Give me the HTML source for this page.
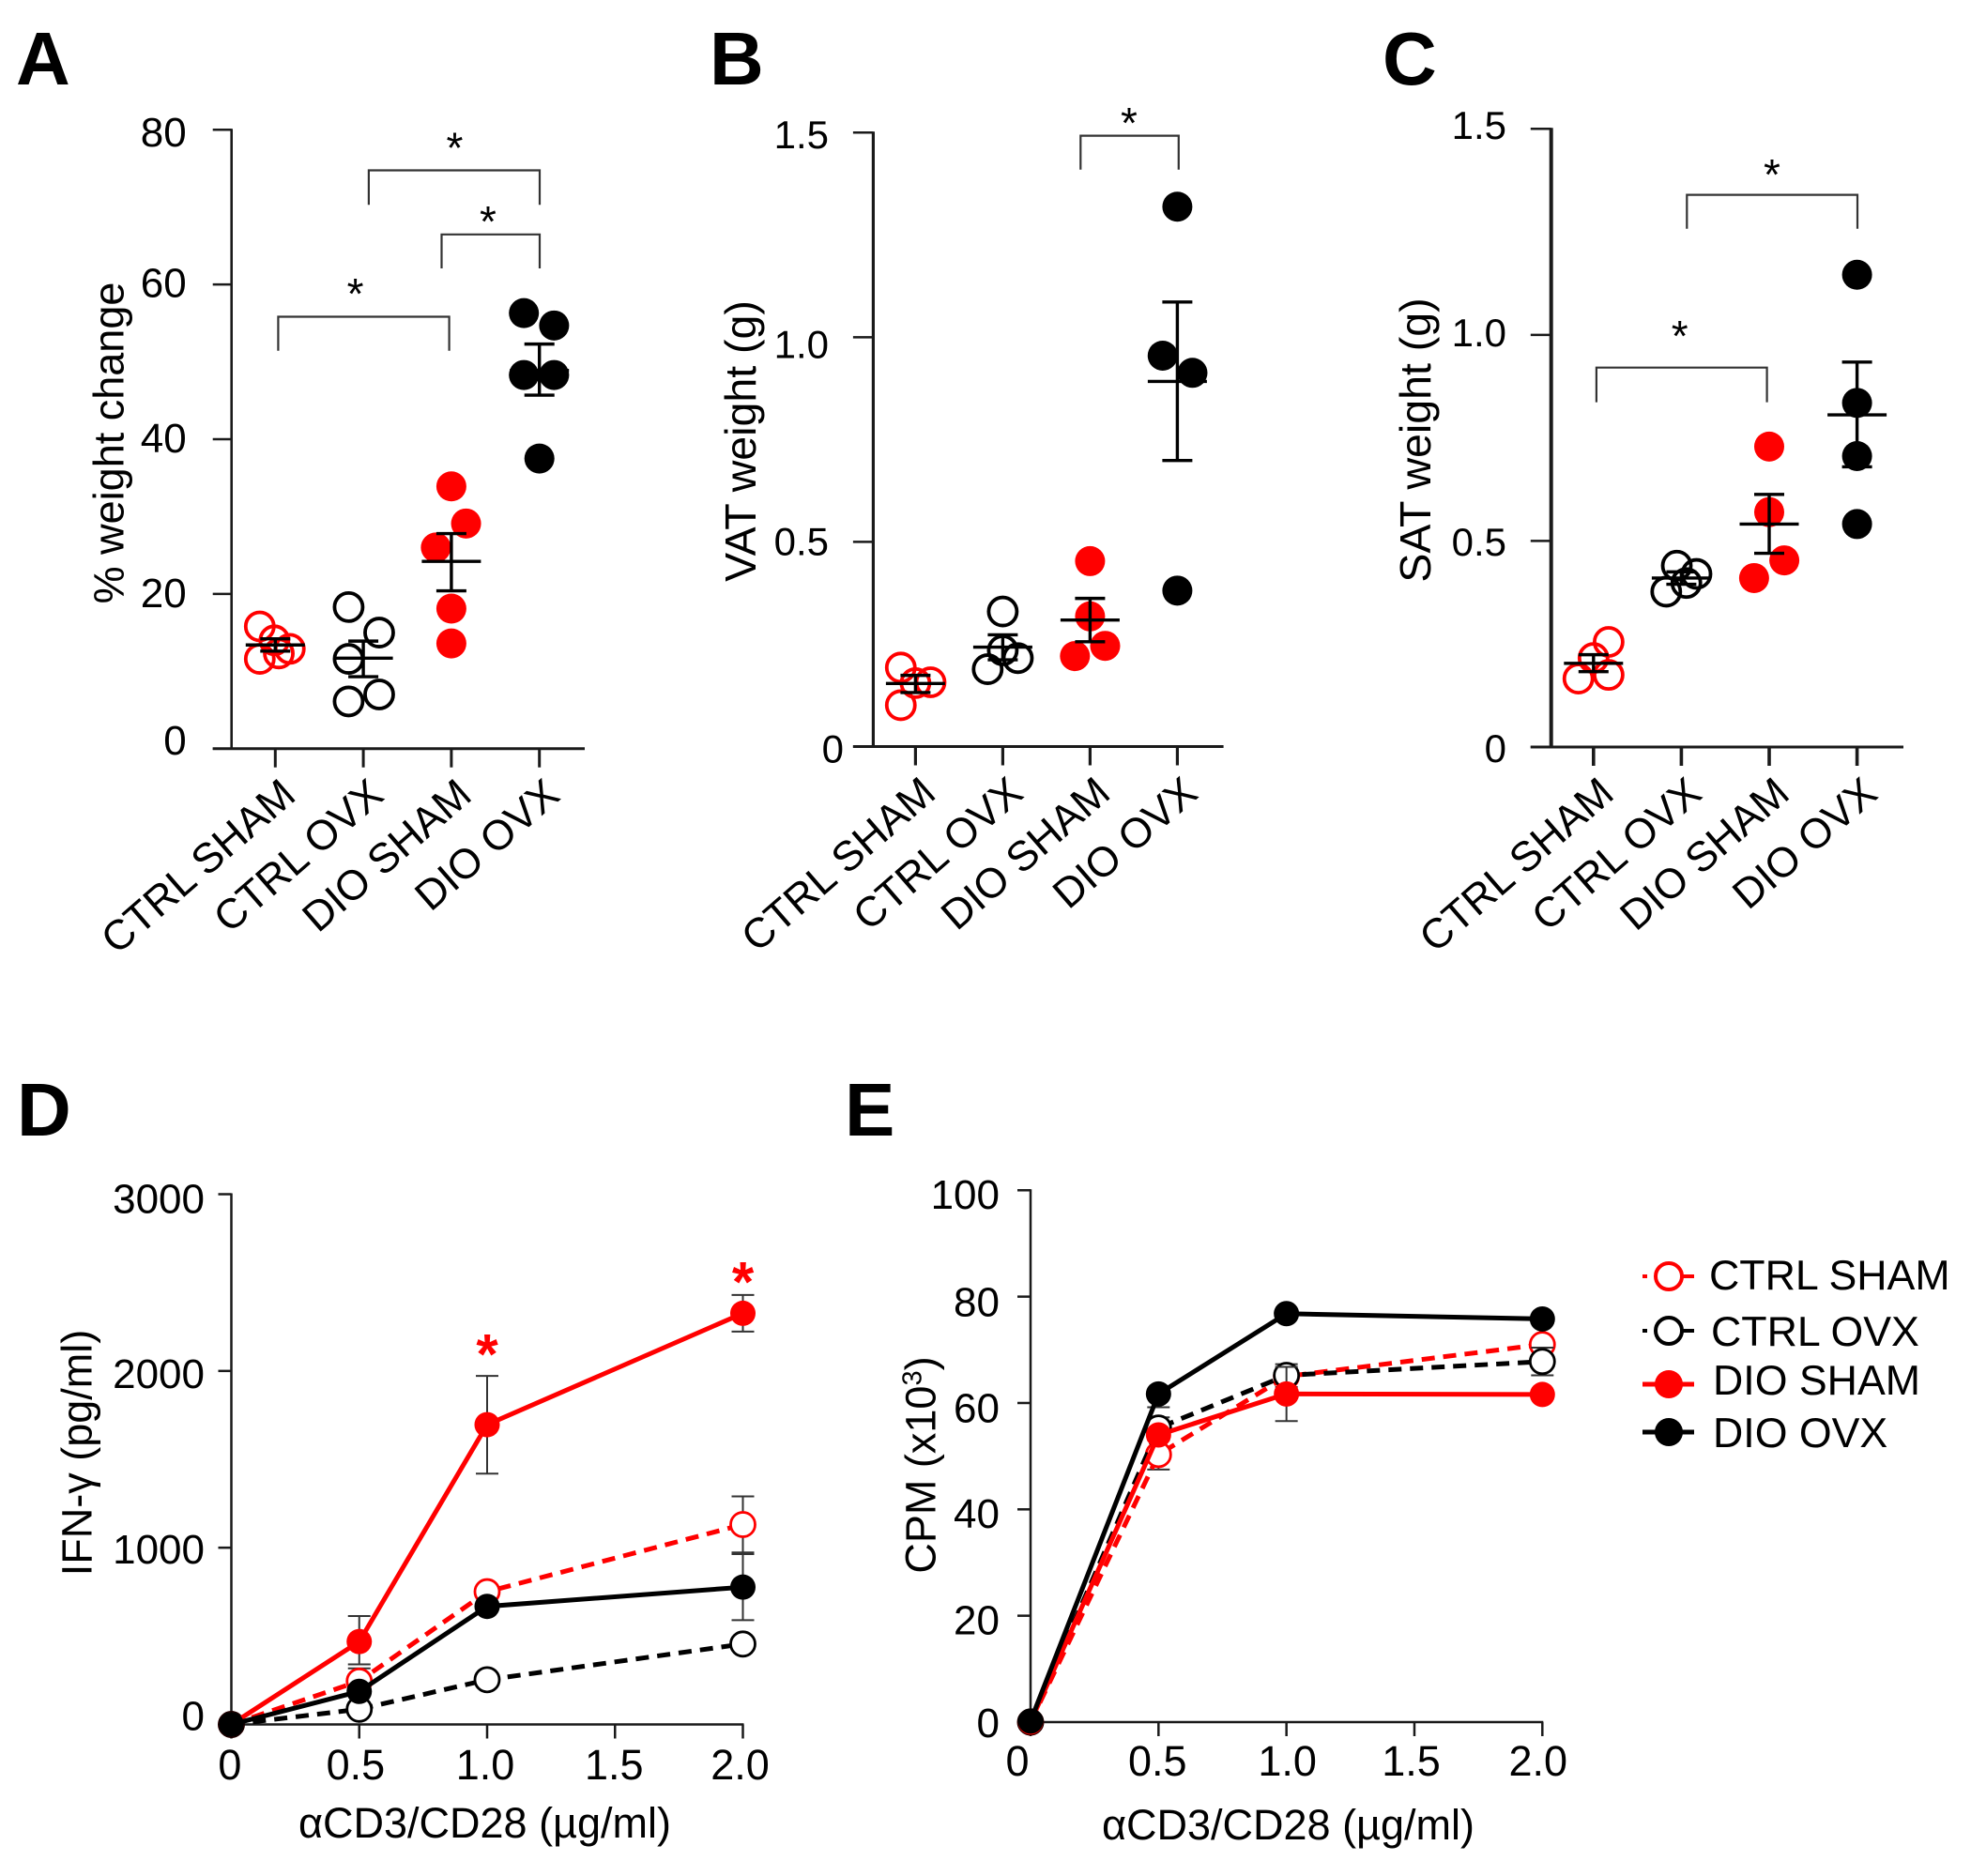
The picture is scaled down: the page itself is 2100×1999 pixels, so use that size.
<!DOCTYPE html>
<html lang="en">
<head>
<meta charset="utf-8">
<title>Weight and T-cell response panels</title>
<style>
html,body{margin:0;padding:0;background:#fff}
svg{display:block}
text{font-family:"Liberation Sans",Arial,sans-serif;fill:#000}
.letter{font-size:80px;font-weight:700}
.ytitle{font-size:45px}
.ytitle-wide{font-size:46.5px}
.xtitle{font-size:45px}
.legend-text{font-size:44.7px}
</style>
</head>
<body>
<svg id="figure" xmlns="http://www.w3.org/2000/svg" width="2100" height="1999" viewBox="0 0 2100 1999">
<rect width="2100" height="1999" fill="#fff"/>
<text class="letter" x="17" y="90">A</text>
<text class="letter" x="756" y="90">B</text>
<text class="letter" x="1473" y="90">C</text>
<text class="letter" x="18" y="1210">D</text>
<text class="letter" x="900" y="1210">E</text>

<text class="ytitle" text-anchor="middle" transform="translate(131.5 472) rotate(-90)">% weight change</text>
<text class="ytitle-wide" text-anchor="middle" transform="translate(805 470) rotate(-90)">VAT weight (g)</text>
<text class="ytitle-wide" text-anchor="middle" transform="translate(1524 469) rotate(-90)">SAT weight (g)</text>
<text class="ytitle" text-anchor="middle" transform="translate(97.5 1548) rotate(-90)">IFN-γ (pg/ml)</text>
<text class="ytitle" text-anchor="middle" transform="translate(996.5 1561) rotate(-90)">CPM (x10<tspan dy="-15" font-size="29">3</tspan><tspan dy="15">)</tspan></text>
<text class="xtitle" text-anchor="middle" x="516.5" y="1958">αCD3/CD28 (µg/ml)</text>
<text class="xtitle" text-anchor="middle" x="1372.5" y="1960">αCD3/CD28 (µg/ml)</text>

<g>
  <g>
    <line x1="1750" y1="1360" x2="1805" y2="1360" stroke="#f00" stroke-width="4" stroke-dasharray="5 13 60"/>
    <circle cx="1778" cy="1360" r="14" fill="#fff" stroke="#f00" stroke-width="4"/>
    <text class="legend-text" x="1821" y="1374">CTRL SHAM</text>
  </g>
  <g>
    <line x1="1750" y1="1418" x2="1805" y2="1418" stroke="#000" stroke-width="4" stroke-dasharray="5 13 60"/>
    <circle cx="1778" cy="1418" r="14" fill="#fff" stroke="#000" stroke-width="4"/>
    <text class="legend-text" x="1823" y="1434">CTRL OVX</text>
  </g>
  <g>
    <line x1="1750" y1="1475" x2="1805" y2="1475" stroke="#f00" stroke-width="5"/>
    <circle cx="1778" cy="1475" r="15" fill="#f00"/>
    <text class="legend-text" x="1825" y="1486">DIO SHAM</text>
  </g>
  <g>
    <line x1="1750" y1="1526" x2="1805" y2="1526" stroke="#000" stroke-width="5"/>
    <circle cx="1778" cy="1526" r="15" fill="#000"/>
    <text class="legend-text" x="1825" y="1542">DIO OVX</text>
  </g>
</g>
</svg>

<script>
/* ---------- shared categories ---------- */
const groupNames = ['CTRL SHAM', 'CTRL OVX', 'DIO SHAM', 'DIO OVX'];

/* ---------- panel A: % weight change ---------- */
const aTickValues = [0, 20, 40, 60, 80];
const aTickLabels = ['0', '20', '40', '60', '80'];
const aCtrlSham = [15.8, 14.0, 12.9, 11.6, 12.3];
const aCtrlOvx = [18.3, 15.0, 11.6, 7.0, 6.1];
const aDioSham = [33.9, 29.1, 26.0, 18.1, 13.6];
const aDioOvx = [56.3, 54.7, 48.3, 48.3, 37.5];
const aCtrlShamSpread = [-0.176, -0.01, 0.165, -0.176, 0.04];
const aCtrlOvxSpread = [-0.167, 0.18, -0.167, 0.18, -0.167];
const aDioShamSpread = [0, 0.167, -0.176, 0, 0];
const aDioOvxSpread = [-0.176, 0.167, -0.176, 0.167, 0];
const aMean = [13.4, 11.7, 24.2, 48.9];
const aUpper = [14.2, 13.9, 27.8, 52.3];
const aLower = [12.6, 9.3, 20.4, 45.7];

/* ---------- panel B: VAT weight ---------- */
const bTickValues = [0, 0.5, 1.0, 1.5];
const bTickLabels = ['0', '0.5', '1.0', '1.5'];
const bCtrlSham = [0.193, 0.155, 0.157, 0.101];
const bCtrlOvx = [0.33, 0.235, 0.216, 0.189];
const bDioSham = [0.453, 0.318, 0.246, 0.221];
const bDioOvx = [1.319, 0.955, 0.913, 0.381];
const bCtrlShamSpread = [-0.168, 0, 0.173, -0.168];
const bCtrlOvxSpread = [0, 0, 0.173, -0.173];
const bDioShamSpread = [0, 0, 0.173, -0.173];
const bDioOvxSpread = [0, -0.168, 0.173, 0];
const bMean = [0.154, 0.243, 0.309, 0.892];
const bUpper = [0.174, 0.273, 0.362, 1.086];
const bLower = [0.132, 0.212, 0.256, 0.699];

/* ---------- panel C: SAT weight ---------- */
const cTickValues = [0, 0.5, 1.0, 1.5];
const cTickLabels = ['0', '0.5', '1.0', '1.5'];
const cCtrlSham = [0.255, 0.216, 0.175, 0.166];
const cCtrlOvx = [0.44, 0.42, 0.398, 0.377];
const cDioSham = [0.729, 0.57, 0.453, 0.41];
const cDioOvx = [1.146, 0.835, 0.706, 0.541];
const cCtrlShamSpread = [0.172, 0, 0.172, -0.172];
const cCtrlOvxSpread = [-0.052, 0.172, 0.057, -0.172];
const cDioShamSpread = [0, 0, 0.172, -0.172];
const cDioOvxSpread = [0, 0, 0, 0];
const cMean = [0.203, 0.41, 0.541, 0.806];
const cUpper = [0.224, 0.425, 0.613, 0.934];
const cLower = [0.183, 0.395, 0.47, 0.68];

/* ---------- panels D, E: dose response ---------- */
const doses = [0, 0.5, 1.0, 2.0];
const doseTickValues = [0, 0.5, 1.0, 1.5, 2.0];
const doseTickLabels = ['0', '0.5', '1.0', '1.5', '2.0'];

const dTickValues = [0, 1000, 2000, 3000];
const dTickLabels = ['0', '1000', '2000', '3000'];
const dCtrlSham = [0, 245, 751, 1131];
const dCtrlOvx = [0, 86, 253, 455];
const dDioSham = [0, 469, 1696, 2326];
const dDioOvx = [0, 187, 668, 777];
const dCtrlShamUpper = [null, 317, null, 1290];
const dCtrlShamLower = [null, 173, null, 973];
const dCtrlOvxUpper = [null, null, null, null];
const dCtrlOvxLower = [null, null, null, null];
const dDioShamUpper = [null, 613, 1972, 2430];
const dDioShamLower = [null, 340, 1419, 2223];
const dDioOvxUpper = [null, null, null, 964];
const dDioOvxLower = [null, null, null, 590];
const dStarDoses = [1.0, 2.0];
const dStarValues = [2150, 2560];

const eTickValues = [0, 20, 40, 60, 80, 100];
const eTickLabels = ['0', '20', '40', '60', '80', '100'];
const eCtrlSham = [0, 50.3, 65, 71];
const eCtrlOvx = [0, 55.3, 65.2, 67.8];
const eDioSham = [0, 54, 61.7, 61.6];
const eDioOvx = [0.2, 61.7, 76.8, 75.8];
const eCtrlShamUpper = [null, 53, null, null];
const eCtrlShamLower = [null, 47.5, null, null];
const eCtrlOvxUpper = [null, 57.3, 67.3, 70.4];
const eCtrlOvxLower = [null, null, 63, 65.2];
const eDioShamUpper = [null, null, 66.8, null];
const eDioShamLower = [null, null, 56.6, null];
const eDioOvxUpper = [null, null, null, null];
const eDioOvxLower = [null, 59.2, null, null];

/* ---------- helpers ---------- */
const NS = 'http://www.w3.org/2000/svg';
const root = document.getElementById('figure');
function svgEl(tag, attrs, parent, txt) {
  const el = document.createElementNS(NS, tag);
  for (const k in attrs) el.setAttribute(k, attrs[k]);
  if (txt !== undefined) el.textContent = txt;
  parent.appendChild(el);
  return el;
}
function scaleLinear(d0, d1, r0, r1) {
  return v => r0 + (v - d0) / (d1 - d0) * (r1 - r0);
}
const slug = s => String(s).toLowerCase().replace(/[^a-z0-9]+/g, '-');

/* ---------- scatter panels ---------- */
function drawScatter(cfg) {
  const g = svgEl('g', {}, root);
  
  
  const yScale = scaleLinear(0, cfg.yMax, cfg.y0, cfg.yTop);
  const xScale = scaleLinear(0, 1, cfg.firstCat, cfg.firstCat + cfg.catStep);

  const yAxis = svgEl('line', {x1: cfg.axisX, x2: cfg.axisX, y1: cfg.yTop - 1, y2: cfg.y0, stroke: '#1a1a1a', 'stroke-width': cfg.axisW}, g);
  
  
  const xAxis = svgEl('line', {x1: cfg.left, x2: cfg.right, y1: cfg.y0, y2: cfg.y0, stroke: '#1a1a1a', 'stroke-width': 3}, g);
  
  

  cfg.ticks.forEach((v, i) => {
    const t = svgEl('line', {x1: cfg.left, x2: cfg.axisX, y1: yScale(v), y2: yScale(v), stroke: '#1a1a1a', 'stroke-width': 2.5}, g);
    
    
    const right = (v === 0 && cfg.zeroRight) ? cfg.zeroRight : cfg.labelRight;
    const lab = svgEl('text', {x: right, y: yScale(v) + 15.5 + cfg.tickNudge[i], 'text-anchor': 'end', 'font-size': cfg.tickFont}, g, cfg.tickLabels[i]);
    
    
  });

  groupNames.forEach((name, i) => {
    const x = xScale(i);
    const t = svgEl('line', {x1: x, x2: x, y1: cfg.y0, y2: cfg.y0 + 20, stroke: '#1a1a1a', 'stroke-width': cfg.xTickW}, g);
    
    
    const ax = x + 24, ay = cfg.y0 + 53;
    const lab = svgEl('text', {x: ax, y: ay, 'text-anchor': 'end', 'font-size': 44.5, transform: 'rotate(-41 ' + ax + ' ' + ay + ')'}, g, name);
    
    
  });

  groupNames.forEach((name, i) => {
    const colour = (i === 0 || i === 2) ? '#f00' : '#000';
    const open = i < 2;
    cfg.values[i].forEach((v, j) => {
      const pt = svgEl('circle', {
        cx: xScale(i + cfg.spread[i][j]), cy: yScale(v), r: open ? 15 : 16,
        fill: open ? 'none' : colour, stroke: open ? colour : 'none', 'stroke-width': open ? 3.8 : 0
      }, g);
      
      
    });
  });

  groupNames.forEach((name, i) => {
    const x = xScale(i);
    const parts = [
      [x - 31.5, x + 31.5, yScale(cfg.mean[i]), yScale(cfg.mean[i])],
      [x - 16, x + 16, yScale(cfg.upper[i]), yScale(cfg.upper[i])],
      [x - 16, x + 16, yScale(cfg.lower[i]), yScale(cfg.lower[i])],
      [x, x, yScale(cfg.upper[i]), yScale(cfg.lower[i])]
    ];
    parts.forEach((p, k) => {
      const ln = svgEl('line', {x1: p[0], x2: p[1], y1: p[2], y2: p[3], stroke: '#000', 'stroke-width': 3.4}, g);
      
      
    });
  });

  cfg.brackets.forEach(b => {
    const br = svgEl('path', {d: 'M' + b[0] + ' ' + b[3] + 'V' + b[2] + 'H' + b[1] + 'V' + b[3], fill: 'none', stroke: '#333', 'stroke-width': 2.2}, g);
    
    
    const st = svgEl('text', {x: b[4], y: b[5] + 21, 'text-anchor': 'middle', 'font-size': 46}, g, '*');
    
    
  });
}

drawScatter({
  id: 'a', yMax: 80, y0: 797.7, yTop: 138.3, axisX: 246.7, axisW: 2.6, xTickW: 3, left: 226.7, right: 623,
  firstCat: 293.3, catStep: 93.8, labelRight: 198.7, tickFont: 44,
  ticks: aTickValues, tickLabels: aTickLabels, tickNudge: [-9, -1.5, -1.3, -2, 2.3],
  values: [aCtrlSham, aCtrlOvx, aDioSham, aDioOvx],
  spread: [aCtrlShamSpread, aCtrlOvxSpread, aDioShamSpread, aDioOvxSpread],
  mean: aMean, upper: aUpper, lower: aLower,
  brackets: [[392.9, 575, 181.5, 218.3, 484.4, 152.7], [470.5, 575, 249.8, 286, 520, 231], [296.4, 478.6, 337.5, 373.7, 378.6, 308]]
});
drawScatter({
  id: 'b', yMax: 1.5, y0: 795.5, yTop: 141.3, axisX: 930.4, axisW: 3.2, xTickW: 3.2, left: 908.9, right: 1303.6,
  firstCat: 975.4, catStep: 93, labelRight: 883, zeroRight: 899, tickFont: 42,
  ticks: bTickValues, tickLabels: bTickLabels, tickNudge: [1.3, -1.3, 6.7, 1.3],
  values: [bCtrlSham, bCtrlOvx, bDioSham, bDioOvx],
  spread: [bCtrlShamSpread, bCtrlOvxSpread, bDioShamSpread, bDioOvxSpread],
  mean: bMean, upper: bUpper, lower: bLower,
  brackets: [[1151.3, 1255.8, 144.6, 180.8, 1203, 125.9]]
});
drawScatter({
  id: 'c', yMax: 1.5, y0: 796, yTop: 137.3, axisX: 1652.7, axisW: 4, xTickW: 3.6, left: 1630.8, right: 2028,
  firstCat: 1697.8, catStep: 93.6, labelRight: 1605, tickFont: 42,
  ticks: cTickValues, tickLabels: cTickLabels, tickNudge: [0.7, 0, -3.3, -4.7],
  values: [cCtrlSham, cCtrlOvx, cDioSham, cDioOvx],
  spread: [cCtrlShamSpread, cCtrlOvxSpread, cDioShamSpread, cDioOvxSpread],
  mean: cMean, upper: cUpper, lower: cLower,
  brackets: [[1797.3, 1979, 207.6, 243.8, 1888, 180.8], [1700.9, 1882.6, 391.7, 428.6, 1789.7, 352.9]]
});

/* ---------- dose-response panels ---------- */
function drawLines(cfg) {
  const g = svgEl('g', {}, root);
  
  
  const xScale = scaleLinear(0, 2, cfg.axisX, cfg.right);
  const yScale = scaleLinear(0, cfg.yMax, cfg.y0, cfg.yTop);

  const yAxis = svgEl('line', {x1: cfg.axisX, x2: cfg.axisX, y1: cfg.yTop - 1, y2: cfg.y0, stroke: '#1a1a1a', 'stroke-width': 2.5}, g);
  
  
  const xAxis = svgEl('line', {x1: cfg.axisX, x2: cfg.right + 1, y1: cfg.y0, y2: cfg.y0, stroke: '#1a1a1a', 'stroke-width': 2.5}, g);
  
  

  cfg.ticks.forEach((v, i) => {
    const t = svgEl('line', {x1: cfg.axisX - 14, x2: cfg.axisX, y1: yScale(v), y2: yScale(v), stroke: '#1a1a1a', 'stroke-width': 2.5}, g);
    
    
    const lab = svgEl('text', {x: cfg.labelRight, y: yScale(v) + 16 + cfg.tickNudge[i], 'text-anchor': 'end', 'font-size': 44}, g, cfg.tickLabels[i]);
    
    
  });
  doseTickValues.forEach((v, i) => {
    const t = svgEl('line', {x1: xScale(v), x2: xScale(v), y1: cfg.y0, y2: cfg.y0 + 15, stroke: '#1a1a1a', 'stroke-width': 2.5}, g);
    
    
    const lab = svgEl('text', {x: xScale(v) + cfg.xNudge[i], y: cfg.xLabelY, 'text-anchor': 'middle', 'font-size': 45}, g, doseTickLabels[i]);
    
    
  });

  cfg.series.forEach(s => {
    const sg = svgEl('g', {}, g);
    
    
    s.values.forEach((v, i) => {
      const x = xScale(doses[i]);
      if (s.upper[i] !== null || s.lower[i] !== null) {
        const hi = s.upper[i] !== null ? s.upper[i] : v;
        const lo = s.lower[i] !== null ? s.lower[i] : v;
        const stem = svgEl('line', {x1: x, x2: x, y1: yScale(hi), y2: yScale(lo), stroke: '#333', 'stroke-width': 2}, sg);
        
        
        [s.upper[i], s.lower[i]].forEach(c => {
          if (c === null) return;
          const cap = svgEl('line', {x1: x - 12, x2: x + 12, y1: yScale(c), y2: yScale(c), stroke: '#333', 'stroke-width': 2}, sg);
          
          
        });
      }
    });
    const pts = s.values.map((v, i) => xScale(doses[i]).toFixed(1) + ',' + yScale(v).toFixed(1)).join(' ');
    const line = svgEl('polyline', {points: pts, fill: 'none', stroke: s.colour, 'stroke-width': 5, 'stroke-dasharray': s.open ? '14 9' : 'none'}, sg);
    
    
    s.values.forEach((v, i) => {
      const c = svgEl('circle', {
        cx: xScale(doses[i]), cy: yScale(v), r: s.open ? 13 : 13.5,
        fill: s.open ? '#fff' : s.colour, stroke: s.open ? s.colour : 'none', 'stroke-width': s.open ? 2.8 : 0
      }, sg);
      
      
    });
  });

  (cfg.starDoses || []).forEach((d, i) => {
    const st = svgEl('text', {x: xScale(d), y: yScale(cfg.starValues[i]) + 31, 'text-anchor': 'middle', 'font-size': 60, 'font-weight': 700, style: 'fill:#f00'}, g, '*');
    
    
  });
}

drawLines({
  id: 'd', yMax: 3000, y0: 1837.5, yTop: 1272.5, axisX: 246.5, right: 791.5, labelRight: 218, xLabelY: 1896,
  ticks: dTickValues, tickLabels: dTickLabels, tickNudge: [-10, 1, 2, 4], xNudge: [-1.6, -3.8, -2, -1, -3],
  starDoses: dStarDoses, starValues: dStarValues,
  series: [
    {name: 'CTRL SHAM', colour: '#f00', open: true, values: dCtrlSham, upper: dCtrlShamUpper, lower: dCtrlShamLower},
    {name: 'CTRL OVX', colour: '#000', open: true, values: dCtrlOvx, upper: dCtrlOvxUpper, lower: dCtrlOvxLower},
    {name: 'DIO SHAM', colour: '#f00', open: false, values: dDioSham, upper: dDioShamUpper, lower: dDioShamLower},
    {name: 'DIO OVX', colour: '#000', open: false, values: dDioOvx, upper: dDioOvxUpper, lower: dDioOvxLower}
  ]
});
drawLines({
  id: 'e', yMax: 100, y0: 1835, yTop: 1268.3, axisX: 1098, right: 1643.3, labelRight: 1065, xLabelY: 1892,
  ticks: eTickValues, tickLabels: eTickLabels, tickNudge: [0, 3.8, 3.8, 4.3, 4.9, 3.7], xNudge: [-14, -1, 1, -3.5, -4.5],
  series: [
    {name: 'CTRL SHAM', colour: '#f00', open: true, values: eCtrlSham, upper: eCtrlShamUpper, lower: eCtrlShamLower},
    {name: 'CTRL OVX', colour: '#000', open: true, values: eCtrlOvx, upper: eCtrlOvxUpper, lower: eCtrlOvxLower},
    {name: 'DIO SHAM', colour: '#f00', open: false, values: eDioSham, upper: eDioShamUpper, lower: eDioShamLower},
    {name: 'DIO OVX', colour: '#000', open: false, values: eDioOvx, upper: eDioOvxUpper, lower: eDioOvxLower}
  ]
});
</script>
</body>
</html>
